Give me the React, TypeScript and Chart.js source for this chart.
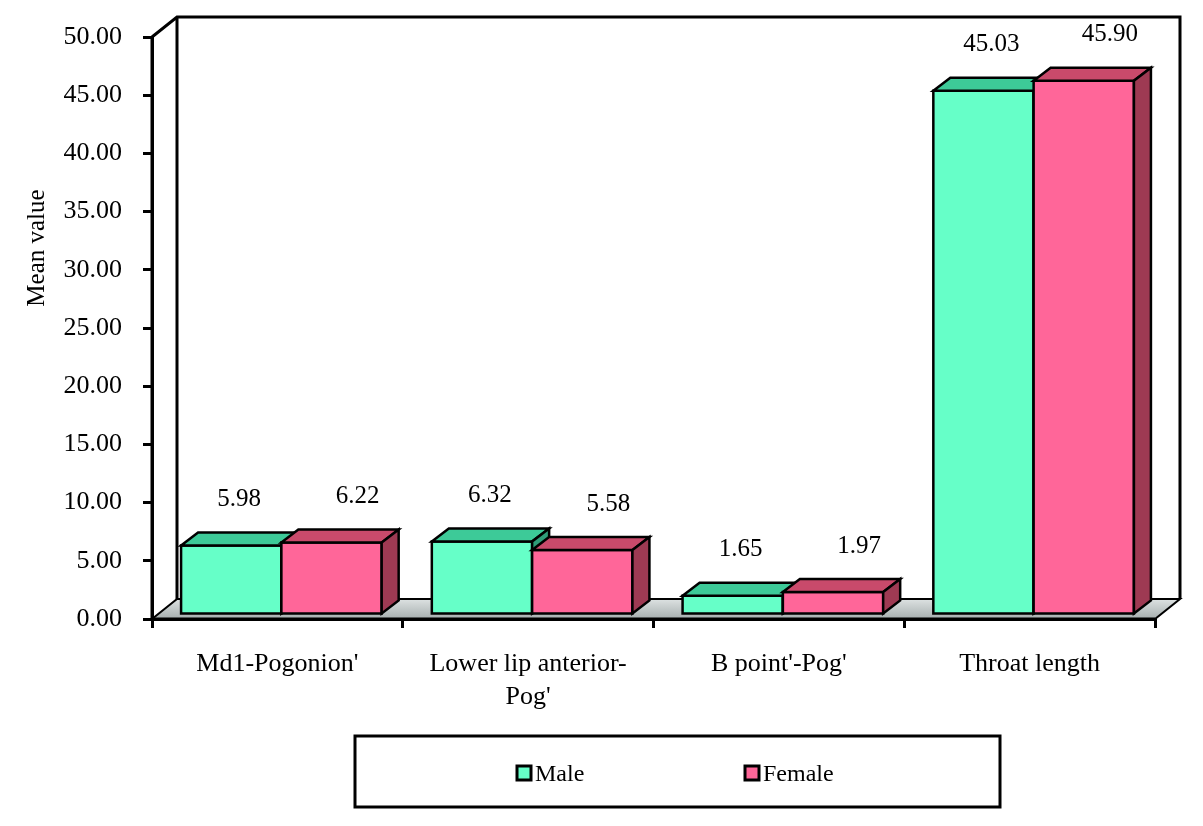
import React, { useEffect, useRef } from "react";
import { Chart, registerables } from "chart.js";

Chart.register(...registerables);

// ---------- data ----------
const categories: string[][] = [
  ["Md1-Pogonion'"],
  ["Lower lip anterior-", "Pog'"],
  ["B point'-Pog'"],
  ["Throat length"],
];
const seriesNames = ["Male", "Female"];
const maleValues = [5.98, 6.32, 1.65, 45.03];
const femaleValues = [6.22, 5.58, 1.97, 45.9];
const yMin = 0;
const yMax = 50;
const yStep = 5;
const yTitle = "Mean value";

// ---------- style ----------
const FONT = "'Liberation Serif', 'Times New Roman', serif";
const frontColors = ["#66FFC8", "#FF6699"];
const topColors = ["#3DCA98", "#C94A6B"];
const sideColors = ["#2F9C78", "#9E3A53"];
const labelDx = [12, 30];
const labelDy = 46;
const FLOOR_D = { dx: 25, dy: -20 };
const BAR_SHIFT = { dx: 4, dy: -4 };
const BAR_D = { dx: 17, dy: -13 };

function poly(ctx: CanvasRenderingContext2D, pts: number[][], fill: string | CanvasGradient, lw = 2.5) {
  ctx.beginPath();
  ctx.moveTo(pts[0][0], pts[0][1]);
  for (let i = 1; i < pts.length; i++) ctx.lineTo(pts[i][0], pts[i][1]);
  ctx.closePath();
  ctx.fillStyle = fill;
  ctx.fill();
  ctx.lineWidth = lw;
  ctx.strokeStyle = "#000";
  ctx.lineJoin = "miter";
  ctx.stroke();
}

const frame3d = {
  id: "frame3d",
  beforeDatasetsDraw(chart: any) {
    const { ctx, chartArea: a } = chart;
    const { left, right, top, bottom } = a;
    ctx.save();
    // floor
    const g = ctx.createLinearGradient(0, bottom + FLOOR_D.dy, 0, bottom);
    g.addColorStop(0, "#dde2e2");
    g.addColorStop(1, "#a6aeae");
    poly(
      ctx,
      [
        [left, bottom],
        [right, bottom],
        [right + FLOOR_D.dx, bottom + FLOOR_D.dy],
        [left + FLOOR_D.dx, bottom + FLOOR_D.dy],
      ],
      g,
      2
    );
    // back wall
    ctx.beginPath();
    ctx.moveTo(left, top);
    ctx.lineTo(left + FLOOR_D.dx, top + FLOOR_D.dy);
    ctx.lineTo(right + FLOOR_D.dx, top + FLOOR_D.dy);
    ctx.lineTo(right + FLOOR_D.dx, bottom + FLOOR_D.dy);
    ctx.moveTo(left + FLOOR_D.dx, top + FLOOR_D.dy);
    ctx.lineTo(left + FLOOR_D.dx, bottom + FLOOR_D.dy);
    ctx.lineWidth = 3;
    ctx.strokeStyle = "#000";
    ctx.stroke();
    // front axis lines
    ctx.beginPath();
    ctx.moveTo(left, top);
    ctx.lineTo(left, bottom);
    ctx.lineTo(right, bottom);
    ctx.lineWidth = 3;
    ctx.stroke();
    ctx.restore();
  },
  afterDatasetsDraw(chart: any) {
    const { ctx } = chart;
    ctx.save();
    const n = chart.data.datasets.length;
    for (let di = 0; di < n; di++) {
      const meta = chart.getDatasetMeta(di);
      const ds = chart.data.datasets[di];
      meta.data.forEach((el: any, i: number) => {
        const { x, y, base, width } = el.getProps(["x", "y", "base", "width"], true);
        const l = x - width / 2 + BAR_SHIFT.dx;
        const r = x + width / 2 + BAR_SHIFT.dx;
        const t = y + BAR_SHIFT.dy;
        const b = base + BAR_SHIFT.dy;
        poly(ctx, [[l, t], [r, t], [r, b], [l, b]], frontColors[di]);
        poly(ctx, [[l, t], [r, t], [r + BAR_D.dx, t + BAR_D.dy], [l + BAR_D.dx, t + BAR_D.dy]], topColors[di]);
        poly(ctx, [[r, t], [r, b], [r + BAR_D.dx, b + BAR_D.dy], [r + BAR_D.dx, t + BAR_D.dy]], sideColors[di]);
        ctx.fillStyle = "#000";
        ctx.font = `25px ${FONT}`;
        ctx.textAlign = "center";
        ctx.textBaseline = "middle";
        ctx.fillText(Number(ds.data[i]).toFixed(2), x + labelDx[di], t - labelDy);
      });
    }
    ctx.restore();
  },
  afterDraw(chart: any) {
    const { ctx } = chart;
    ctx.save();
    // y title
    ctx.translate(37, 248);
    ctx.rotate(-Math.PI / 2);
    ctx.fillStyle = "#000";
    ctx.font = `25px ${FONT}`;
    ctx.textAlign = "center";
    ctx.textBaseline = "middle";
    ctx.fillText(yTitle, 0, 0);
    ctx.restore();
    // legend
    ctx.save();
    ctx.lineWidth = 3;
    ctx.strokeStyle = "#000";
    ctx.strokeRect(355, 736, 645, 71);
    const itemX = [517, 745];
    chart.data.datasets.forEach((ds: any, i: number) => {
      ctx.fillStyle = frontColors[i];
      ctx.fillRect(itemX[i], 766, 14, 14);
      ctx.lineWidth = 3;
      ctx.strokeRect(itemX[i], 766, 14, 14);
      ctx.fillStyle = "#000";
      ctx.font = `24px ${FONT}`;
      ctx.textAlign = "left";
      ctx.textBaseline = "alphabetic";
      ctx.fillText(ds.label, itemX[i] + 18, 781);
    });
    ctx.restore();
  },
};

export default function App() {
  const ref = useRef<HTMLCanvasElement | null>(null);
  useEffect(() => {
    if (!ref.current) return;
    const tickFont = { family: FONT, size: 26 };
    const chart = new Chart(ref.current, {
      type: "bar",
      data: {
        labels: categories,
        datasets: [maleValues, femaleValues].map((vals, i) => ({
          label: seriesNames[i],
          data: vals,
          backgroundColor: "rgba(0,0,0,0)",
          borderWidth: 0,
          categoryPercentage: 0.8,
          barPercentage: 1,
        })),
      },
      options: {
        responsive: false,
        animation: false,
        events: [],
        layout: { padding: { top: 37, right: 48, left: 0, bottom: 0 } },
        plugins: { legend: { display: false }, tooltip: { enabled: false } },
        scales: {
          x: {
            grid: { display: true, drawOnChartArea: false, offset: true, tickLength: 9, color: "#000", lineWidth: 3 },
            border: { display: true, color: "#000", width: 3 },
            ticks: { font: { ...tickFont, lineHeight: 1.25 }, color: "#000", padding: 20, maxRotation: 0, autoSkip: false },
            afterFit: (s: any) => {
              s.height = 826 - 619;
            },
          },
          y: {
            min: yMin,
            max: yMax,
            grid: { display: true, drawOnChartArea: false, tickLength: 9, color: "#000", lineWidth: 3 },
            border: { display: true, color: "#000", width: 3 },
            ticks: {
              stepSize: yStep,
              font: tickFont,
              color: "#000",
              padding: 21,
              callback: (v: any) => Number(v).toFixed(2),
            },
            afterFit: (s: any) => {
              s.width = 152;
            },
          },
        },
      } as any,
      plugins: [frame3d],
    });
    return () => chart.destroy();
  }, []);
  return (
    <div style={{ position: "absolute", left: 0, top: 0, width: 1203, height: 826, background: "#fff" }}>
      <canvas ref={ref} width={1203} height={826} />
    </div>
  );
}
